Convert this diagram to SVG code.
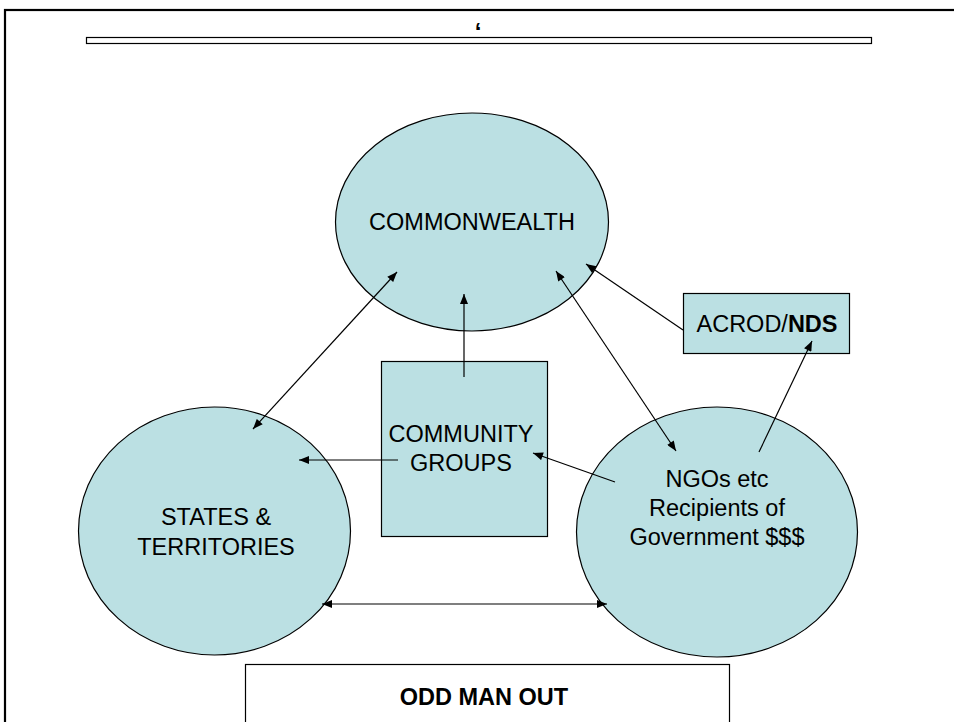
<svg xmlns="http://www.w3.org/2000/svg" width="954" height="722" viewBox="0 0 954 722">
<defs>
<style>
.n{fill:#bbe0e3;stroke:#000;stroke-width:1.2}
.t{font-family:"Liberation Sans",Arial,sans-serif;font-size:23.5px;fill:#000;text-anchor:middle}
.c line{stroke:#000;stroke-width:1.2}
</style>
<marker id="ah" viewBox="0 0 10 8" refX="10" refY="4" markerWidth="11" markerHeight="8" markerUnits="userSpaceOnUse" orient="auto-start-reverse">
<path d="M0,0 L10,4 L0,8 Z" fill="#000"/>
</marker>
</defs>
<rect width="954" height="722" fill="#fff"/>
<g id="frame">
<rect x="5" y="10" width="960" height="730" fill="none" stroke="#000" stroke-width="2.2"/>
<rect x="86.5" y="37.5" width="785" height="6" fill="#fff" stroke="#000" stroke-width="1.2"/>
<text x="478" y="40" style="font-family:'Liberation Sans',Arial,sans-serif;font-size:24px;font-weight:bold" text-anchor="middle">‘</text>
</g>
<g id="commonwealth">
<ellipse class="n" cx="472" cy="222" rx="136.5" ry="109"/>
<text class="t" x="472" y="230">COMMONWEALTH</text>
</g>
<g id="states">
<ellipse class="n" cx="214.5" cy="531" rx="136" ry="124"/>
<text class="t" x="216" y="525">STATES &amp;</text>
<text class="t" x="216" y="555">TERRITORIES</text>
</g>
<g id="ngos">
<ellipse class="n" cx="717" cy="532" rx="140.5" ry="125"/>
<text class="t" x="717" y="487">NGOs etc</text>
<text class="t" x="717" y="516">Recipients of</text>
<text class="t" x="717" y="545">Government $$$</text>
</g>
<g id="community">
<rect class="n" x="381.5" y="361.5" width="166" height="175"/>
<text class="t" x="461" y="442">COMMUNITY</text>
<text class="t" x="461" y="471">GROUPS</text>
</g>
<g id="acrod">
<rect class="n" x="683.5" y="293.5" width="166" height="60"/>
<text class="t" x="767" y="332">ACROD/<tspan font-weight="bold">NDS</tspan></text>
</g>
<g id="oddmanout">
<rect x="245.5" y="664.5" width="484" height="80" fill="#fff" stroke="#000" stroke-width="1.2"/>
<text class="t" x="484" y="705" font-weight="bold">ODD MAN OUT</text>
</g>
<g class="c" id="connectors">
<line x1="397" y1="272" x2="253" y2="429" marker-start="url(#ah)" marker-end="url(#ah)"/>
<line x1="464" y1="377" x2="464" y2="294" marker-end="url(#ah)"/>
<line x1="398" y1="460" x2="299" y2="460" marker-end="url(#ah)"/>
<line x1="615" y1="482" x2="533" y2="453" marker-end="url(#ah)"/>
<line x1="556" y1="271" x2="676" y2="451" marker-start="url(#ah)" marker-end="url(#ah)"/>
<line x1="683" y1="330" x2="586" y2="264" marker-end="url(#ah)"/>
<line x1="759" y1="452" x2="812" y2="341" marker-end="url(#ah)"/>
<line x1="322" y1="604" x2="607" y2="604" marker-start="url(#ah)" marker-end="url(#ah)"/>
</g>
</svg>
